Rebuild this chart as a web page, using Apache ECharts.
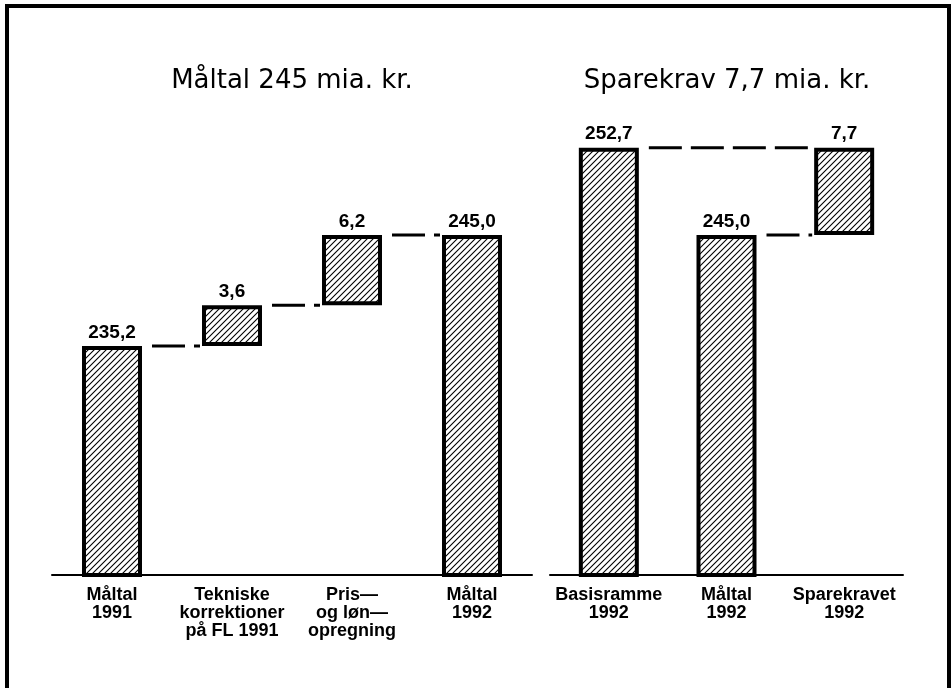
<!DOCTYPE html>
<html><head><meta charset="utf-8">
<script src="https://cdn.jsdelivr.net/npm/echarts@6/dist/echarts.min.js"></script>
<style>html,body{margin:0;padding:0;background:#fff}#c{width:952px;height:688px}</style>
</head><body><div id="c"></div>
<script>
// ---- data ----
const leftTitle = 'Måltal 245 mia. kr.';
const rightTitle = 'Sparekrav 7,7 mia. kr.';
const leftCategories = ['Måltal\n1991', 'Tekniske\nkorrektioner\npå FL 1991', 'Pris—\nog løn—\nopregning', 'Måltal\n1992'];
const leftBase = [0, 235.2, 238.8, 0];
const leftValues = [235.2, 3.6, 6.2, 245.0];
const leftConnectors = [[0, 1, 235.2], [1, 2, 238.8], [2, 3, 245.0]];
const rightCategories = ['Basisramme\n1992', 'Måltal\n1992', 'Sparekravet\n1992'];
const rightBase = [0, 0, 245.0];
const rightValues = [252.7, 245.0, 7.7];
const rightConnectors = [[0, 2, 252.7], [1, 2, 245.0]];
const yMin = 215, yMax = 260;

// ---- styles ----
const FONT = '"Liberation Sans", Arial, sans-serif';
const TFONT = '"DejaVu Sans", sans-serif';
const BAR_W = 60;
const hatch = document.createElement('canvas');
hatch.width = 6; hatch.height = 6;
const g = hatch.getContext('2d');
g.strokeStyle = '#000'; g.lineWidth = 1.1;
g.beginPath();
g.moveTo(0, 6); g.lineTo(6, 0);
g.moveTo(-1, 1); g.lineTo(1, -1);
g.moveTo(5, 7); g.lineTo(7, 5);
g.stroke();

const fmt = v => v.toFixed(1).replace('.', ',');

function xAxis(cats, gi) {
  return {
    type: 'category', gridIndex: gi, data: cats,
    axisLine: { lineStyle: { color: '#000', width: 2 } },
    axisTick: { show: false },
    axisLabel: { color: '#000', fontFamily: FONT, fontSize: 18, fontWeight: 'bold', lineHeight: 18, margin: 11, interval: 0 }
  };
}
function yAxis(gi) {
  return { type: 'value', gridIndex: gi, min: yMin, max: yMax, show: false, splitLine: { show: false } };
}
function barSeries(base, vals, gi) {
  return [
    { type: 'bar', xAxisIndex: gi, yAxisIndex: gi, stack: 's' + gi, data: base, barWidth: BAR_W, silent: true,
      itemStyle: { color: 'rgba(0,0,0,0)' } },
    { type: 'bar', xAxisIndex: gi, yAxisIndex: gi, stack: 's' + gi, data: vals, barWidth: BAR_W, silent: true,
      itemStyle: { color: { image: hatch, repeat: 'repeat' }, borderColor: '#000', borderWidth: 4 },
      label: { show: true, position: 'top', distance: 4, color: '#000', fontFamily: FONT, fontSize: 19, fontWeight: 'bold',
        formatter: p => fmt(p.value) } }
  ];
}
function connSeries(conns, gi) {
  return {
    type: 'custom', xAxisIndex: gi, yAxisIndex: gi, data: conns, silent: true, z: 5,
    encode: { x: [0, 1], y: 2 },
    renderItem: function (params, api) {
      const a = api.coord([api.value(0), api.value(2)]);
      const b = api.coord([api.value(1), api.value(2)]);
      const half = BAR_W / 2 + 2;
      return { type: 'line',
        shape: { x1: a[0] + half + 8, y1: a[1], x2: b[0] - half, y2: b[1] },
        style: { stroke: '#000', lineWidth: 3, lineDash: [33, 9] } };
    }
  };
}

const chart = echarts.init(document.getElementById('c'), null, { renderer: 'canvas' });
chart.setOption({
  backgroundColor: '#fff',
  animation: false,
  grid: [
    { left: 52, width: 480, top: 65, bottom: 113 },
    { left: 550, width: 353, top: 65, bottom: 113 }
  ],
  xAxis: [xAxis(leftCategories, 0), xAxis(rightCategories, 1)],
  yAxis: [yAxis(0), yAxis(1)],
  series: [].concat(barSeries(leftBase, leftValues, 0), barSeries(rightBase, rightValues, 1),
    [connSeries(leftConnectors, 0), connSeries(rightConnectors, 1)]),
  graphic: [
    { type: 'rect', z: 100, silent: true, shape: { x: 7, y: 6, width: 942, height: 720 },
      style: { fill: 'none', stroke: '#000', lineWidth: 4 } },
    { type: 'text', x: 292, y: 81, silent: true,
      style: { text: leftTitle, font: '26px ' + TFONT, fill: '#000', textAlign: 'center', textVerticalAlign: 'middle' } },
    { type: 'text', x: 727, y: 81, silent: true,
      style: { text: rightTitle, font: '26px ' + TFONT, fill: '#000', textAlign: 'center', textVerticalAlign: 'middle' } }
  ]
});
</script></body></html>
